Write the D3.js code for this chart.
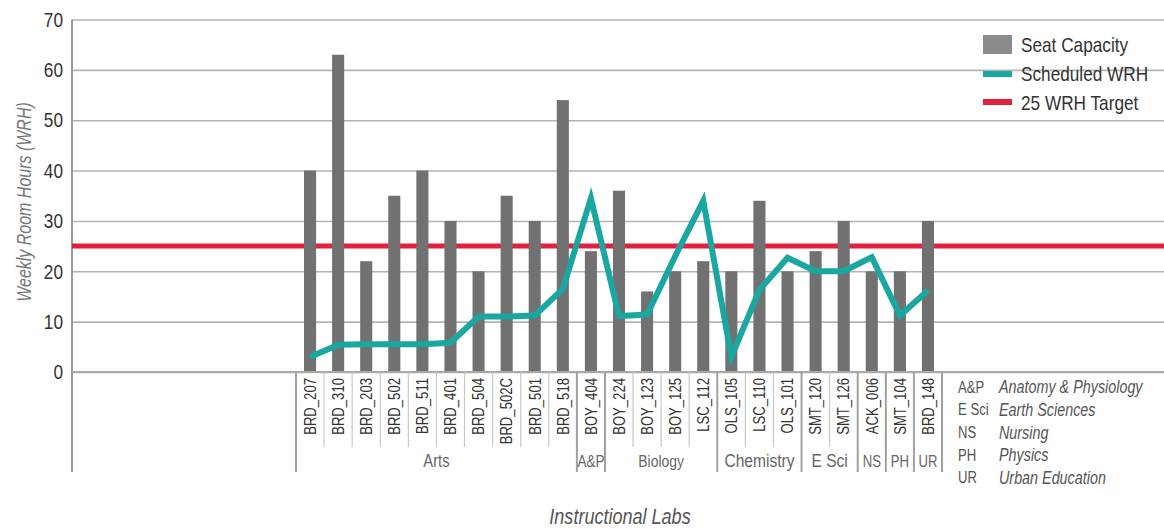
<!DOCTYPE html>
<html>
<head>
<meta charset="utf-8">
<script src="https://cdn.jsdelivr.net/npm/d3@7"></script>
<style>
  body { margin: 0; background: #fff; }
  text { font-family: "Liberation Sans", Arial, sans-serif; }
</style>
</head>
<body>
<div id="chart"></div>
<script>
// data
var labs = ["BRD_207", "BRD_310", "BRD_203", "BRD_502", "BRD_511", "BRD_401", "BRD_504", "BRD_502C", "BRD_501", "BRD_518",
	"BOY_404", "BOY_224", "BOY_123", "BOY_125", "LSC_112", "OLS_105", "LSC_110", "OLS_101",
	"SMT_120", "SMT_126", "ACK_006", "SMT_104", "BRD_148"];
var seatCapacity = [40, 63, 22, 35, 40, 30, 20, 35, 30, 54,
	24, 36, 16, 20, 22, 20, 34, 20,
	24, 30, 20, 20, 30];
var scheduledWRH = [3, 5.4, 5.5, 5.5, 5.5, 5.8, 11, 11, 11.2, 16.5,
	34.5, 11.1, 11.4, 23, 34, 3, 16.3, 22.7,
	20, 20, 22.8, 11.2, 16.2];
var target = 25;
var groupNames = ["Arts", "A&P", "Biology", "Chemistry", "E Sci", "NS", "PH", "UR"];
var groupSizes = [10, 1, 4, 3, 2, 1, 1, 1];
var yTicks = [0, 10, 20, 30, 40, 50, 60, 70];
var legendLabels = ["Seat Capacity", "Scheduled WRH", "25 WRH Target"];
var keyAbbr = ["A&P", "E Sci", "NS", "PH", "UR"];
var keyText = ["Anatomy & Physiology", "Earth Sciences", "Nursing", "Physics", "Urban Education"];

var W = 1164, H = 529;
var plotLeft = 72, plotRight = 1164, plotTop = 19.5, base = 372;
var narrowX = 0.82; // condensed look
var groupFont = { "Arts": 18, "A&P": 16.5, "Biology": 17, "Chemistry": 19, "E Sci": 19, "NS": 16, "PH": 16, "UR": 16 };

var svg = d3.select("#chart").append("svg")
	.attr("width", W)
	.attr("height", H);

// places a narrowed text at (px, py), optionally rotated
function narrowText(px, py, rot) {
	return "translate(" + px + "," + py + ")" + (rot ? " rotate(" + rot + ")" : "") + " scale(" + narrowX + ",1)";
}

var y = d3.scaleLinear().domain([0, 70]).range([base, plotTop]);
var x = d3.scaleBand().domain(labs).range([296, 942]).padding(0);
var barW = x.bandwidth() * 0.43;

// gridlines
svg.append("g")
	.attr("transform", "translate(" + plotLeft + ",0)")
	.call(d3.axisLeft(y).tickValues(yTicks).tickSize(-(plotRight - plotLeft)).tickFormat(""))
	.call(function(g) { g.select(".domain").remove(); })
	.selectAll("line")
	.attr("stroke", "#b4b4b4")
	.attr("stroke-width", 1.6);

// y tick labels
svg.append("g")
	.attr("transform", "translate(" + plotLeft + ",0)")
	.call(d3.axisLeft(y).tickValues(yTicks).tickSize(0).tickPadding(9))
	.call(function(g) { g.select(".domain").remove(); })
	.selectAll("text")
	.attr("x", -9 / narrowX)
	.attr("transform", "scale(" + narrowX + ",1)")
	.style("font-family", "'Liberation Sans', Arial, sans-serif")
	.style("font-size", "21px")
	.attr("fill", "#333");

// left axis line
svg.append("line")
	.attr("x1", plotLeft).attr("x2", plotLeft)
	.attr("y1", plotTop).attr("y2", 472)
	.attr("stroke", "#9a9a9a")
	.attr("stroke-width", 2);

// 25 WRH target
svg.append("line")
	.attr("x1", plotLeft).attr("x2", plotRight)
	.attr("y1", y(target)).attr("y2", y(target))
	.attr("stroke", "#e31e3e")
	.attr("stroke-width", 5);

// bars
svg.selectAll("rect.bar")
	.data(labs)
	.enter()
	.append("rect")
	.attr("class", "bar")
	.attr("x", function(d) { return x(d) + (x.bandwidth() - barW) / 2; })
	.attr("y", function(d, i) { return y(seatCapacity[i]); })
	.attr("width", barW)
	.attr("height", function(d, i) { return base - y(seatCapacity[i]); })
	.attr("fill", "#717171");

// scheduled line
var line = d3.line()
	.x(function(d, i) { return x(labs[i]) + x.bandwidth() / 2; })
	.y(function(d) { return y(d); });
svg.append("path")
	.datum(scheduledWRH)
	.attr("d", line)
	.attr("fill", "none")
	.attr("stroke", "#19a7a0")
	.attr("stroke-width", 6)
	.attr("stroke-linejoin", "miter");

// x axis baseline
svg.append("line")
	.attr("x1", plotLeft).attr("x2", plotRight)
	.attr("y1", base).attr("y2", base)
	.attr("stroke", "#a8a8a8")
	.attr("stroke-width", 2);

// separators between labs
var groupEdges = [0];
groupSizes.forEach(function(n, i) { groupEdges.push(groupEdges[i] + n); });
labs.forEach(function(d, i) {
	if (groupEdges.indexOf(i) < 0) {
		svg.append("line")
			.attr("x1", x(d)).attr("x2", x(d))
			.attr("y1", base).attr("y2", 447)
			.attr("stroke", "#c8c8c8")
			.attr("stroke-width", 1.2);
	}
});
groupEdges.forEach(function(k) {
	var xe = k < labs.length ? x(labs[k]) : x(labs[labs.length - 1]) + x.bandwidth();
	svg.append("line")
		.attr("x1", xe).attr("x2", xe)
		.attr("y1", base).attr("y2", 472)
		.attr("stroke", "#a0a0a0")
		.attr("stroke-width", 2);
});

// lab labels
svg.selectAll("text.lab")
	.data(labs)
	.enter()
	.append("text")
	.attr("class", "lab")
	.attr("transform", function(d) { return narrowText(x(d) + x.bandwidth() / 2, 378, -90); })
	.attr("text-anchor", "end")
	.attr("dy", "0.36em")
	.style("font-size", "16px")
	.attr("fill", "#333")
	.text(function(d) { return d; });

// group labels
groupNames.forEach(function(g, i) {
	var x0 = x(labs[groupEdges[i]]);
	var x1 = x(labs[groupEdges[i + 1] - 1]) + x.bandwidth();
	svg.append("text")
		.attr("transform", narrowText((x0 + x1) / 2, 467))
		.attr("text-anchor", "middle")
		.style("font-size", groupFont[g] + "px")
		.attr("fill", "#666")
		.text(g);
});

// axis titles
svg.append("text")
	.attr("transform", narrowText(31, 202, -90))
	.attr("text-anchor", "middle")
	.style("font-size", "19.5px")
	.style("font-style", "italic")
	.attr("fill", "#777")
	.text("Weekly Room Hours (WRH)");

svg.append("text")
	.attr("transform", narrowText(620, 524))
	.attr("text-anchor", "middle")
	.style("font-size", "22px")
	.style("font-style", "italic")
	.attr("fill", "#555")
	.text("Instructional Labs");

// legend
var legend = svg.append("g").attr("transform", "translate(983,0)");
legend.append("rect")
	.attr("x", 0).attr("y", 35)
	.attr("width", 29).attr("height", 19)
	.attr("fill", "#8a8b8c");
legend.append("line")
	.attr("x1", 0).attr("x2", 29)
	.attr("y1", 74).attr("y2", 74)
	.attr("stroke", "#19a7a0").attr("stroke-width", 6);
legend.append("line")
	.attr("x1", 0).attr("x2", 29)
	.attr("y1", 102).attr("y2", 102)
	.attr("stroke", "#e31e3e").attr("stroke-width", 6);
legend.selectAll("text")
	.data(legendLabels)
	.enter()
	.append("text")
	.attr("transform", function(d, i) { return narrowText(38, 44 + i * 29); })
	.attr("dy", "0.36em")
	.style("font-size", "21px")
	.attr("fill", "#333")
	.text(function(d) { return d; });

// abbreviation key
keyAbbr.forEach(function(a, i) {
	svg.append("text")
		.attr("transform", narrowText(958, 387 + i * 22.6))
		.attr("dy", "0.36em")
		.style("font-size", "16px")
		.attr("fill", "#555")
		.text(a);
	svg.append("text")
		.attr("transform", narrowText(999, 387 + i * 22.6))
		.attr("dy", "0.36em")
		.style("font-size", "17.5px")
		.style("font-style", "italic")
		.attr("fill", "#555")
		.text(keyText[i]);
});
</script>
</body>
</html>
